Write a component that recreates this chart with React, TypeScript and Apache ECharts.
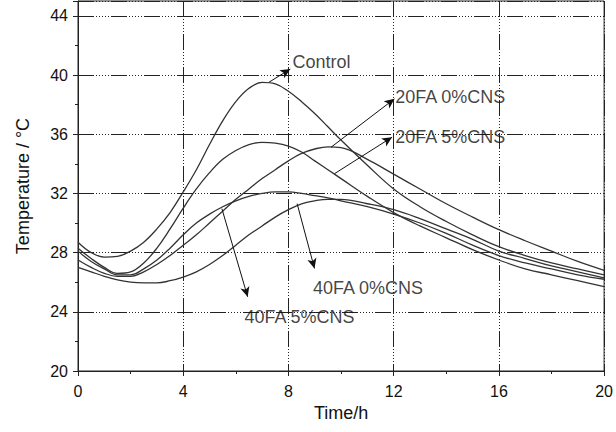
import React, { useEffect, useRef } from "react";
import * as echarts from "echarts";

// Time (h)
const time = [0, 0.5, 1, 1.5, 2, 2.5, 3, 3.5, 4, 4.5, 5, 5.5, 6, 6.5, 7, 7.5, 8, 8.5, 9, 9.5, 10, 11, 12, 13, 14, 15, 16, 17, 18, 19, 20];

// Temperature (°C)
const control = [28.7, 28.0, 27.7, 27.75, 28.1, 28.7, 29.6, 30.7, 32.1, 33.6, 35.3, 36.9, 38.2, 39.1, 39.5, 39.4, 38.9, 38.2, 37.4, 36.5, 35.6, 33.9, 32.3, 31.1, 30.1, 29.2, 28.4, 27.8, 27.3, 26.9, 26.5];
const fa20cns0 = [27.5, 27.0, 26.6, 26.4, 26.4, 26.7, 27.2, 27.8, 28.5, 29.2, 30.0, 30.8, 31.6, 32.3, 33.0, 33.6, 34.2, 34.7, 35.0, 35.15, 35.1, 34.3, 33.3, 32.3, 31.3, 30.4, 29.55, 28.8, 28.1, 27.4, 26.8];
const fa20cns5 = [28.3, 27.6, 27.0, 26.6, 26.7, 27.3, 28.3, 29.6, 31.0, 32.3, 33.4, 34.3, 34.9, 35.3, 35.45, 35.4, 35.2, 34.8, 34.2, 33.6, 33.0, 31.8, 30.7, 29.8, 29.0, 28.2, 27.5, 26.9, 26.5, 26.1, 25.7];
const fa40cns0 = [27.0, 26.7, 26.4, 26.15, 26.0, 25.95, 25.95, 26.1, 26.35, 26.7, 27.2, 27.8, 28.5, 29.2, 29.8, 30.4, 30.9, 31.3, 31.5, 31.6, 31.6, 31.3, 30.9, 30.3, 29.6, 28.9, 28.1, 27.6, 27.1, 26.7, 26.3];
const fa40cns5 = [28.1, 27.4, 26.9, 26.5, 26.5, 26.9, 27.5, 28.3, 29.2, 30.0, 30.6, 31.1, 31.5, 31.8, 32.0, 32.1, 32.1, 32.0, 31.85, 31.7, 31.5, 31.1, 30.6, 30.0, 29.3, 28.5, 27.8, 27.3, 26.9, 26.5, 26.2];

const seriesNames = ["Control", "20FA 0%CNS", "20FA 5%CNS", "40FA 0%CNS", "40FA 5%CNS"];
const seriesValues = [control, fa20cns0, fa20cns5, fa40cns0, fa40cns5];

// Annotation anchors (data space: [time, temperature])
const labelAt = [[8.15, 40.85], [12.06, 38.5], [12.06, 35.8], [8.93, 25.64], [6.33, 23.66]];
const arrowFrom = [[7.25, 39.5], [9.62, 35.12], [9.75, 33.33], [8.33, 31.31], [5.47, 30.97]];
const arrowTo = [[8.07, 40.4], [12.03, 38.39], [11.94, 35.8], [8.99, 26.93], [6.45, 25.01]];

const FONT = "'Liberation Sans', Arial, Helvetica, sans-serif";
const gridDash = [16, 2, 1, 2, 1, 2, 1, 2, 1, 2, 1, 2];

export default function App() {
  const ref = useRef<HTMLDivElement>(null);
  useEffect(() => {
    if (!ref.current) return;
    const chart = echarts.init(ref.current, undefined, { renderer: "svg" });
    const lineSeries = seriesValues.map((vals, i) => ({
      name: seriesNames[i],
      type: "line",
      data: time.map((t, j) => [t, vals[j]]),
      smooth: 0.4,
      showSymbol: false,
      symbol: "none",
      lineStyle: { color: "#333", width: 1.3 },
      z: 3,
    }));
    const option = {
      animation: false,
      backgroundColor: "#ffffff",
      grid: { left: 78, right: 11, top: 1, bottom: 61, show: true, borderColor: "#222", borderWidth: 1 },
      xAxis: {
        type: "value",
        min: 0,
        max: 20,
        interval: 4,
        name: "Time/h",
        nameLocation: "middle",
        nameGap: 30,
        nameTextStyle: { fontFamily: FONT, fontSize: 18, color: "#111" },
        axisLine: { lineStyle: { color: "#222", width: 1 } },
        axisTick: { show: true, inside: false, length: 5, lineStyle: { color: "#222" } },
        minorTick: { show: true, splitNumber: 2, length: 3, lineStyle: { color: "#222" } },
        axisLabel: { fontFamily: FONT, fontSize: 16, color: "#111", margin: 12 },
        splitLine: { show: true, lineStyle: { color: "#222", width: 1, type: gridDash } },
      },
      yAxis: {
        type: "value",
        min: 20,
        max: 45,
        interval: 4,
        name: "Temperature / \u00B0C",
        nameLocation: "middle",
        nameGap: 46,
        nameTextStyle: { fontFamily: FONT, fontSize: 18, color: "#111" },
        axisLine: { lineStyle: { color: "#222", width: 1 } },
        axisTick: { show: true, inside: false, length: 5, lineStyle: { color: "#222" } },
        minorTick: { show: true, splitNumber: 2, length: 3, lineStyle: { color: "#222" } },
        axisLabel: {
          fontFamily: FONT,
          fontSize: 16,
          color: "#111",
          margin: 10,
          formatter: (v: number) => (v % 4 === 0 ? String(v) : ""),
        },
        splitLine: { show: true, lineStyle: { color: "#222", width: 1, type: gridDash } },
      },
      series: [
        ...lineSeries,
        {
          name: "arrows",
          type: "line",
          data: [],
          z: 4,
          markLine: {
            silent: true,
            symbol: ["none", "arrow"],
            symbolSize: [7, 10],
            label: { show: false },
            lineStyle: { color: "#111", width: 1, type: "solid" },
            data: arrowFrom.map((p, i) => [{ coord: p }, { coord: arrowTo[i] }]),
          },
        },
        {
          name: "labels",
          type: "scatter",
          symbolSize: 0,
          z: 5,
          data: labelAt.map((p, i) => ({ value: p, name: seriesNames[i] })),
          label: {
            show: true,
            position: "right",
            distance: 0,
            formatter: (p: any) => p.name,
            fontFamily: FONT,
            fontSize: 18,
            color: "#111",
          },
        },
      ],
    };
    chart.setOption(option as any);
    return () => chart.dispose();
  }, []);
  return <div ref={ref} style={{ position: "fixed", left: 0, top: 0, width: 616, height: 432, background: "#fff" }} />;
}
